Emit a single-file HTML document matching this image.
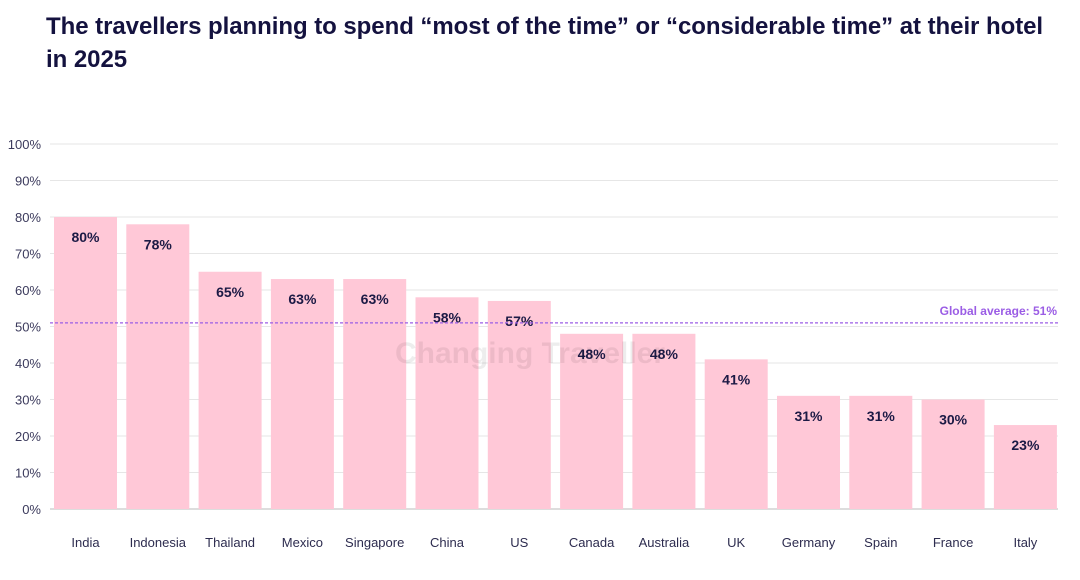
<!DOCTYPE html>
<html><head><meta charset="utf-8"><style>
body{margin:0;background:#fff;width:1080px;height:580px;overflow:hidden;font-family:"Liberation Sans","Noto Sans CJK SC",sans-serif}
h1{position:absolute;left:46px;top:10px;margin:0;font-size:24px;line-height:33px;font-weight:bold;color:#14123f;width:1034px;white-space:nowrap;letter-spacing:-0.05px}
</style></head><body>
<h1>The travellers planning to spend “most of the time” or “considerable time” at their hotel<br>in 2025</h1>
<svg id="c" width="1080" height="580" style="position:absolute;left:0;top:0"></svg>
<script>
const categories=["India","Indonesia","Thailand","Mexico","Singapore","China","US","Canada","Australia","UK","Germany","Spain","France","Italy"];
const values=[80,78,65,63,63,58,57,48,48,41,31,31,30,23];
const ticks=[0,10,20,30,40,50,60,70,80,90,100];
const globalAvg=51;
const svg=document.getElementById('c');const NS='http://www.w3.org/2000/svg';
const y=v=>509-v*3.65;const x=i=>54+i*72.3;const bw=63;
function mk(t,a,txt){const e=document.createElementNS(NS,t);for(const k in a)e.setAttribute(k,a[k]);if(txt!==undefined)e.textContent=txt;svg.appendChild(e);return e;}
ticks.forEach(t=>{
const l=mk('line',{x1:50,x2:1058,y1:y(t),y2:y(t),stroke:t===0?'#bbb':'#e6e6e6','stroke-width':1});


const tx=mk('text',{x:41,y:y(t)+5,'text-anchor':'end','font-size':13,fill:'#3b3a5c'},t+'%');


});
categories.forEach((c,i)=>{
const r=mk('rect',{x:x(i),y:y(values[i]),width:bw,height:y(0)-y(values[i]),fill:'#ffc8d7'});


const v=mk('text',{x:x(i)+bw/2,y:y(values[i])+25,'text-anchor':'middle','font-size':14,'font-weight':'bold',fill:'#1c1a45'},values[i]+'%');


const cl=mk('text',{x:x(i)+bw/2,y:547,'text-anchor':'middle','font-size':13,fill:'#2d2c4f'},c);


});
const wm=mk('text',{x:530,y:363,'text-anchor':'middle','font-size':30,'font-weight':'bold',fill:'#000','fill-opacity':0.07},'Changing Traveller');


const al=mk('line',{x1:50,x2:1058,y1:y(globalAvg),y2:y(globalAvg),stroke:'#9b5de5','stroke-width':1.3,'stroke-dasharray':'3,2'});


const at=mk('text',{x:1057,y:y(globalAvg)-8,'text-anchor':'end','font-size':12,'font-weight':'bold',fill:'#9b5de5'},'Global average: '+globalAvg+'%');


</script>
</body></html>
